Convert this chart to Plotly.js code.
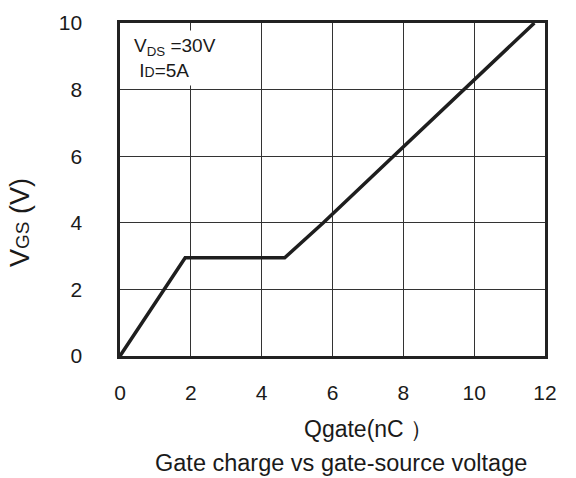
<!DOCTYPE html>
<html>
<head>
<meta charset="utf-8">
<script src="https://cdn.plot.ly/plotly-3.0.1.min.js"></script>
<style>html,body{margin:0;padding:0;background:#fff}#chart{width:576px;height:478px}</style>
</head>
<body>
<div id="chart"></div>
<script>
// Data
var qgate = [0, 1.84, 4.65, 5.74, 7.72, 9.70, 11.70];   // nC
var vgs   = [0, 2.95, 2.95, 4.0, 6.0, 8.0, 10.0];        // V
var xTicks = [0, 2, 4, 6, 8, 10, 12];
var yTicks = [0, 2, 4, 6, 8, 10];

var font = 'Liberation Sans, Arial, sans-serif';

var trace = {
  x: qgate, y: vgs, type: 'scatter', mode: 'lines',
  line: {color: '#1e1e1e', width: 3.5},
  hoverinfo: 'skip', showlegend: false
};

var layout = {
  width: 576, height: 478,
  margin: {l: 120, r: 31, t: 23, b: 122},
  paper_bgcolor: '#fff', plot_bgcolor: '#fff',
  font: {family: font, color: '#1a1a1a'},
  showlegend: false,
  xaxis: {
    range: [0, 12], tickvals: xTicks, ticktext: xTicks.map(String),
    showgrid: true, gridcolor: '#333', gridwidth: 1.3,
    zeroline: false, showline: true, mirror: true, linecolor: '#222', linewidth: 2.6,
    ticks: '', ticklabelstandoff: 16,
    tickfont: {size: 21, family: font, color: '#1a1a1a'}
  },
  yaxis: {
    range: [0, 10], tickvals: yTicks, ticktext: yTicks.map(String),
    showgrid: true, gridcolor: '#333', gridwidth: 1.3,
    zeroline: false, showline: true, mirror: true, linecolor: '#222', linewidth: 2.6,
    ticks: '', ticklabelstandoff: 31,
    tickfont: {size: 21, family: font, color: '#1a1a1a'}
  },
  annotations: [
    {
      xref: 'paper', yref: 'paper', x: 0.022, y: 0.98, xanchor: 'left', yanchor: 'top',
      text: 'V<sub>DS</sub> =30V<br> I<span style="font-size:14px">D</span>=5A',
      showarrow: false, align: 'left', bgcolor: '#fff', borderpad: 4,
      font: {size: 19, family: font, color: '#1a1a1a'}
    },
    {
      xref: 'paper', yref: 'paper', x: -0.235, y: 0.40, xanchor: 'center', yanchor: 'middle',
      text: 'V<span style="font-size:19px">GS</span> (V)', textangle: -90, showarrow: false,
      font: {size: 27, family: font, color: '#1a1a1a'}
    },
    {
      xref: 'paper', yref: 'paper', x: 0.585, y: -0.218, xanchor: 'center', yanchor: 'middle',
      text: 'Qgate(nC ）', showarrow: false,
      font: {size: 23, family: font, color: '#1a1a1a'}
    },
    {
      xref: 'paper', yref: 'paper', x: 0.52, y: -0.32, xanchor: 'center', yanchor: 'middle',
      text: 'Gate charge vs gate-source voltage', showarrow: false,
      font: {size: 23.5, family: font, color: '#1a1a1a'}
    }
  ]
};

Plotly.newPlot('chart', [trace], layout, {staticPlot: true, displayModeBar: false});
</script>
</body>
</html>
